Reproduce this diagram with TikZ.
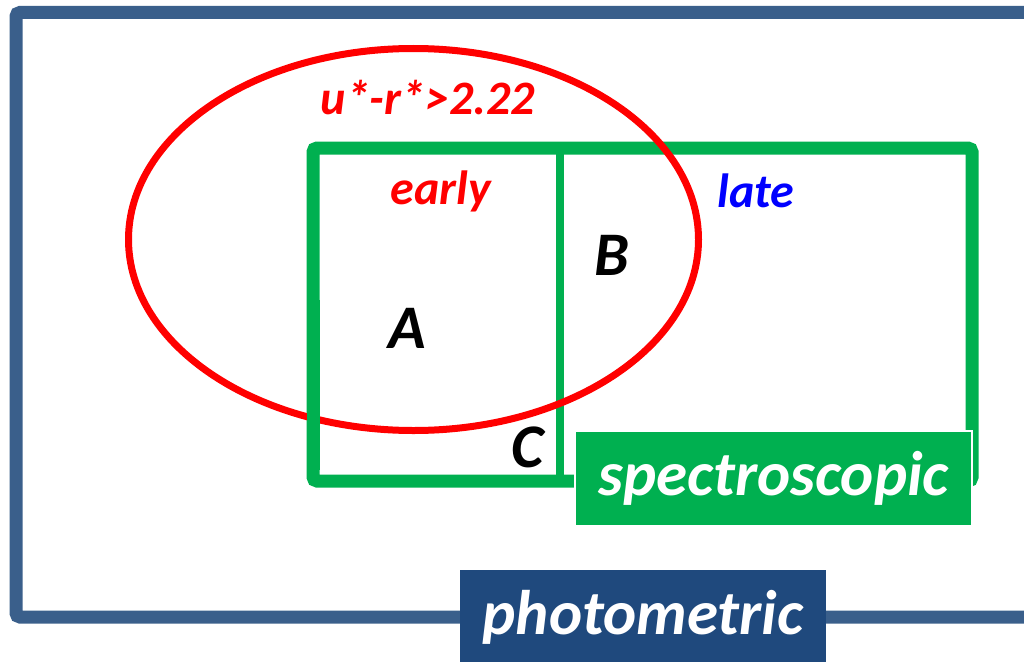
\documentclass[tikz,border=0pt]{standalone}
\usepackage{fontspec}
\setmainfont{Carlito}
\definecolor{photoblue}{RGB}{58,95,139}
\definecolor{photodark}{RGB}{31,73,125}
\definecolor{specgreen}{RGB}{0,176,80}

\begin{document}
\begin{tikzpicture}[
    x=1pt, y=-1pt,
    frame/.style={draw, line width=13pt, rounded corners=4pt},
    tag/.style={inner sep=0pt, text=white, font=\fontsize{63}{70}\selectfont\bfseries\itshape},
    region/.style={font=\fontsize{62}{70}\selectfont\bfseries\itshape},
    sample/.style={font=\fontsize{48}{54}\selectfont\bfseries\itshape}
]
\useasboundingbox (0,0) rectangle (1024,661);
\clip (0,0) rectangle (1024,661);
% photometric sample
\draw[frame, photoblue] (16,12.5) rectangle (1045,617);
\node[tag, fill=photodark, minimum width=366pt, minimum height=94pt] (photo) at (643,617) {photometric};
% spectroscopic sample, split early / late
\draw[frame, specgreen] (313,148) rectangle (972,481);
\draw[specgreen, line width=8pt] (560,148) -- (560,481);
% colour cut
\draw[red, line width=7pt] (413.5,239.5) ellipse [x radius=285, y radius=191];
\draw[specgreen, line width=13pt] (313,300) -- (313,470);
\node[tag, fill=specgreen, draw=white, line width=2pt, minimum width=397pt, minimum height=95pt] (spec) at (773.5,478.5) {spectroscopic};
% labels
\node[sample, text=red] (cut) at (428,98) {u*-r*>2.22};
\node[sample, text=red] (early) at (441,191) {early};
\node[sample, text=blue] (late) at (756,191) {late};
\node[region] (A) at (407,328) {A};
\node[region] (B) at (612,255) {B};
\node[region] (C) at (528,447) {C};
\end{tikzpicture}
\end{document}
